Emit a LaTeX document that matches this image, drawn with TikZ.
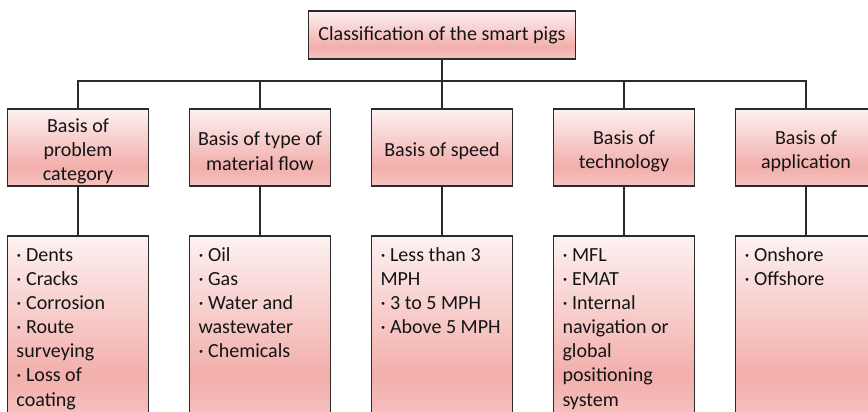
\documentclass[tikz,border=0pt]{standalone}
\usepackage{fontspec}
\setmainfont{Carlito}
\usetikzlibrary{positioning,calc}
\definecolor{pigtop}{HTML}{FDF1F1}
\definecolor{pigdark}{HTML}{F2AFAB}
\definecolor{pigbot}{HTML}{F5C3C0}
\definecolor{pigline}{HTML}{2B2B2B}
\pgfdeclareverticalshading{pigfill}{100bp}{color(0bp)=(pigbot); color(25bp)=(pigbot);
  color(37.5bp)=(pigdark); color(75bp)=(pigtop); color(100bp)=(pigtop)}
\newcommand{\piglist}[1]{\parbox[t][3.36cm][t]{2.46cm}{\raggedright\strut #1}}
\newcommand{\topgap}{\rule{0pt}{12pt}}
\tikzset{
  box/.style={draw=pigline,line width=1pt,shading=pigfill,text=black!92,
    font=\fontsize{11.4}{13.7}\selectfont},
  rootbox/.style={box,minimum width=5.34cm,minimum height=0.96cm},
  catbox/.style={box,minimum width=2.82cm,minimum height=1.54cm,align=center,inner sep=1pt},
  listbox/.style={box,inner xsep=0.18cm,inner ysep=0.18cm},
  link/.style={draw=pigline,line width=1pt},
}
\begin{document}
\begin{tikzpicture}
  \clip (0,0) rectangle (17.36,-8.22);
  % top of the tree
  \node[rootbox] (root) at (8.84,-0.70) {Classification of the smart pigs};
  % the five bases
  \node[catbox] (cat1) at (1.56,-2.95) {\topgap Basis of\\problem\\category};
  \node[catbox] (cat2) at (5.20,-2.95) {\topgap Basis of type of\\material flow};
  \node[catbox] (cat3) at (8.84,-2.95) {\topgap Basis of speed};
  \node[catbox] (cat4) at (12.48,-2.95) {\topgap Basis of\\technology};
  \node[catbox] (cat5) at (16.12,-2.95) {\topgap Basis of\\application};
  % item lists
  \node[listbox,below=0.96cm of cat1] (list1)
    {\piglist{· Dents\\· Cracks\\· Corrosion\\· Route\\surveying\\· Loss of\\coating}};
  \node[listbox,below=0.96cm of cat2] (list2)
    {\piglist{· Oil\\· Gas\\· Water and\\wastewater\\· Chemicals}};
  \node[listbox,below=0.96cm of cat3] (list3)
    {\piglist{· Less than 3\\MPH\\· 3 to 5 MPH\\· Above 5 MPH}};
  \node[listbox,below=0.96cm of cat4] (list4)
    {\piglist{· MFL\\· EMAT\\· Internal\\navigation or\\global\\positioning\\system}};
  \node[listbox,below=0.96cm of cat5] (list5)
    {\piglist{· Onshore\\· Offshore}};
  % connectors
  \coordinate (bus) at ($(root.south)+(0,-0.42)$);
  \draw[link] (root.south) -- (bus);
  \foreach \i in {1,...,5}{
    \draw[link] (bus) -| (cat\i.north);
    \draw[link] (cat\i.south) -- (list\i.north);
  }
\end{tikzpicture}
\end{document}
